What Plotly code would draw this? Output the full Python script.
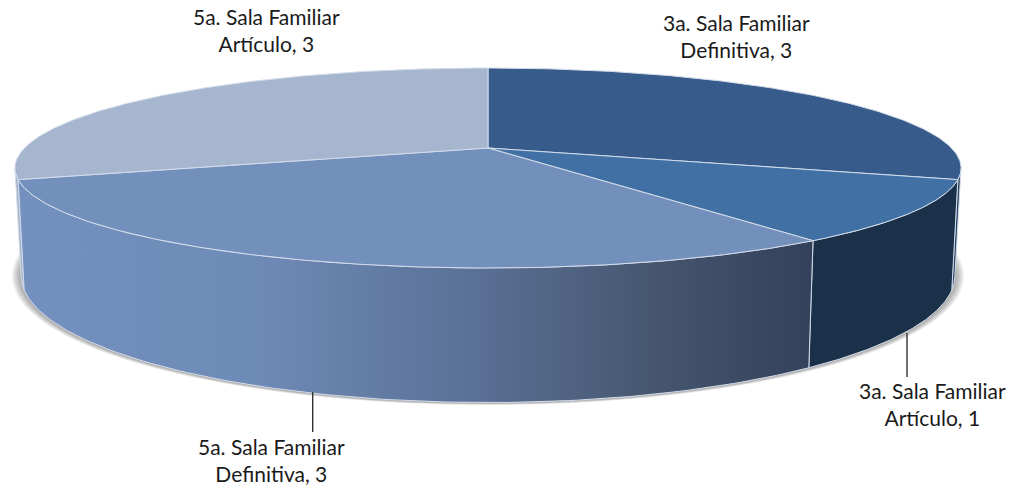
import numpy as np
import plotly.graph_objects as go

# --- data ---
salas = ["3a. Sala Familiar", "3a. Sala Familiar", "5a. Sala Familiar", "5a. Sala Familiar"]
tipos = ["Definitiva", "Artículo", "Definitiva", "Artículo"]
valores = [3, 1, 3, 3]

# --- style ---
top_colors = ["#375b8a", "#4170a5", "#7390bd", "#a7b6cf"]
side_colors = ["#2b4767", "#1b3049", "#7390bd", "#a3b3cc"]
side_gradient = [[0, "#7390bf"], [0.3, "#6e8ab6"], [0.55, "#5c7399"], [0.8, "#46566f"], [1, "#33415a"]]
edge = "#d3dcea"
label_xy = [(736, 36), (932, 404), (271, 460), (266, 30)]
leaders = [((907, 333), (907, 377)), ((312.7, 392), (312.7, 432))]

# projection of the disc (pixel canvas)
CX, K = 488, 0.2
TOP = dict(a=463.5, y0=148, b=96)
BOT = dict(a=457.5, y0=250, b=122)


def proj(t_deg, s):
    t = np.radians(t_deg)
    u, v = np.sin(t), -np.cos(t)
    d = 1 - K * v
    return CX + s["a"] * u / d, s["y0"] + s["b"] * v / d


fig = go.Figure()

# soft shadow below the disc
for d in np.arange(9, 0, -1.0):
    s = dict(a=BOT["a"] + d * 1.0, y0=BOT["y0"] + 0.5, b=BOT["b"] + d * 0.18)
    x, y = proj(np.linspace(0, 360, 241), s)
    fig.add_trace(go.Scatter(x=x, y=y, fill="toself", mode="none",
                             fillcolor="rgba(60,60,60,0.06)", hoverinfo="skip"))

total = sum(valores)
bounds = np.concatenate([[0], np.cumsum(valores)]) * 360 / total
VIS0 = np.degrees(np.arccos(-K))
VIS1 = 360 - VIS0

# side walls
for i in [3, 0, 1, 2]:
    a0, a1 = max(bounds[i], VIS0), min(bounds[i + 1], VIS1)
    if a1 <= a0:
        continue
    t = np.linspace(a0, a1, 121)
    xt, yt = proj(t, TOP)
    xb, yb = proj(t[::-1], BOT)
    x = np.r_[xt, xb, xt[0]]
    y = np.r_[yt, yb, yt[0]]
    kw = dict(fillcolor=side_colors[i])
    if i == 2:
        kw = dict(fillgradient=dict(type="horizontal", colorscale=side_gradient))
    fig.add_trace(go.Scatter(x=x, y=y, mode="lines", fill="toself",
                             line=dict(color=edge, width=1), hoverinfo="skip",
                             name=f"{salas[i]} {tipos[i]}", **kw))

# top faces
for i in range(len(valores)):
    t = np.linspace(bounds[i], bounds[i + 1], 181)
    xt, yt = proj(t, TOP)
    ax, ay = CX, TOP["y0"]
    fig.add_trace(go.Scatter(x=np.r_[ax, xt, ax], y=np.r_[ay, yt, ay], mode="lines",
                             fill="toself", fillcolor=top_colors[i],
                             line=dict(color=edge, width=1), hoverinfo="skip",
                             name=f"{salas[i]} {tipos[i]}"))

# leader lines
for (p, q) in leaders:
    fig.add_trace(go.Scatter(x=[p[0], q[0]], y=[p[1], q[1]], mode="lines",
                             line=dict(color="#333333", width=1.4), hoverinfo="skip"))

for i, (lx, ly) in enumerate(label_xy):
    fig.add_annotation(x=lx, y=ly, xref="x", yref="y", showarrow=False,
                       xanchor="center", yanchor="middle", align="center",
                       text=f"{salas[i]}<br>{tipos[i]}, {valores[i]}",
                       font=dict(family="Lato", size=21, color="#1a1a1a"))

fig.update_layout(width=1011, height=487, autosize=False, showlegend=False,
                  margin=dict(l=0, r=0, t=0, b=0),
                  paper_bgcolor="white", plot_bgcolor="white",
                  xaxis=dict(range=[0, 1011], visible=False, fixedrange=True),
                  yaxis=dict(range=[487, 0], visible=False, fixedrange=True))
fig.write_html("out.html", config=dict(displayModeBar=False),
               post_script="document.body.style.margin='0';")
